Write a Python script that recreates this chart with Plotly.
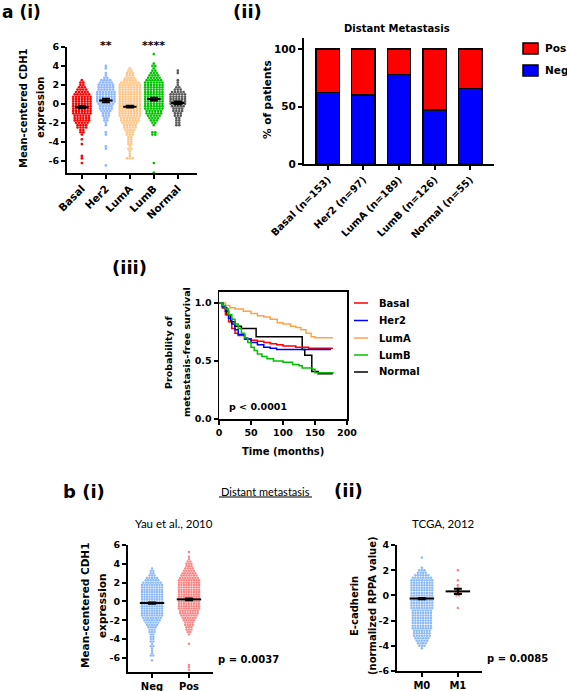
import plotly.graph_objects as go

W, H = 567, 691

# ---------------- data ----------------
subtypes = ["Basal", "Her2", "LumA", "LumB", "Normal"]
bar_labels = ["Basal (n=153)", "Her2 (n=97)", "LumA (n=189)", "LumB (n=126)", "Normal (n=55)"]
neg_pct = [62.1, 59.8, 77.8, 46.8, 65.5]
pos_pct = [37.9, 40.2, 22.2, 53.2, 34.5]

# a(i) swarm: number of points in each 0.25-wide row, from the top value downward
ai_step = 0.25
basal_top = 2.5
basal_counts = [1, 2, 2, 3, 4, 5, 6, 7, 7, 7, 7, 7, 7, 7, 7, 6, 6, 6, 5, 4, 4, 2, 2, 1, 0, 1, 0, 1, 0, 0, 0, 0, 1, 1, 0, 1]
her2_top = 4.0
her2_counts = [1, 1, 0, 1, 1, 2, 4, 5, 6, 6, 6, 7, 7, 7, 7, 7, 6, 5, 5, 4, 3, 3, 2, 2, 1, 1, 0, 0, 1, 1,
               0, 0, 0, 0, 1, 1, 0, 0, 0, 0, 0, 0, 1]
luma_top = 3.75
luma_counts = [1, 2, 3, 3, 4, 5, 7, 8, 8, 8, 8, 8, 8, 8, 8, 8, 8, 8, 8, 8, 8, 7, 7, 6, 5, 5, 4, 3, 3, 2,
               2, 2, 2, 1, 2, 1, 1, 1, 3]
lumb_top = 5.25
lumb_counts = [1, 0, 0, 0, 1, 2, 1, 2, 3, 4, 5, 6, 7, 7, 7, 7, 7, 7, 7, 7, 7, 7, 7, 7, 6, 6, 5, 4, 3, 2,
               1, 0, 0, 2, 2, 0, 0, 0, 0, 0, 0, 0, 0, 0, 0, 0, 1, 0, 0, 0, 1]
normal_top = 3.5
normal_counts = [1, 1, 0, 0, 1, 1, 1, 2, 3, 5, 6, 6, 6, 6, 6, 5, 4, 4, 3, 3, 2, 2, 2, 2]
ai_means = [-0.35, 0.35, -0.3, 0.5, 0.1]
ai_sem = [0.12, 0.18, 0.1, 0.15, 0.15]
ai_colors = ["#ff0000", "#8fb8ff", "#ffc688", "#00c400", "#5a5a5a"]

# a(iii) Kaplan-Meier steps (months, probability)
km_basal_t = [0, 5, 10, 15, 20, 25, 30, 40, 50, 60, 70, 80, 90, 100, 120, 140, 160, 178]
km_basal_s = [1.0, 0.96, 0.90, 0.84, 0.78, 0.74, 0.72, 0.69, 0.68, 0.67, 0.66, 0.65, 0.64, 0.63, 0.62, 0.61, 0.61, 0.61]
km_her2_t = [0, 5, 10, 15, 20, 25, 30, 40, 50, 60, 70, 80, 90, 100, 120, 140, 160, 175]
km_her2_s = [1.0, 0.97, 0.93, 0.87, 0.82, 0.77, 0.73, 0.69, 0.66, 0.64, 0.62, 0.61, 0.60, 0.60, 0.60, 0.60, 0.60, 0.60]
km_luma_t = [0, 10, 17, 25, 38, 50, 60, 70, 80, 91, 100, 112, 120, 128, 136, 144, 150, 178]
km_luma_s = [1.0, 0.98, 0.96, 0.95, 0.93, 0.91, 0.89, 0.88, 0.86, 0.83, 0.82, 0.80, 0.79, 0.77, 0.74, 0.71, 0.70, 0.70]
km_lumb_t = [0, 5, 10, 15, 20, 25, 30, 35, 40, 45, 50, 55, 60, 67, 75, 85, 100, 115, 125, 130, 146, 150, 178]
km_lumb_s = [1.0, 0.98, 0.95, 0.90, 0.86, 0.82, 0.78, 0.74, 0.70, 0.66, 0.62, 0.59, 0.56, 0.54, 0.52, 0.50, 0.49, 0.47, 0.46, 0.44, 0.43, 0.40, 0.39]
km_normal_t = [0, 6, 12, 18, 25, 35, 58, 130, 134, 145, 155, 178]
km_normal_s = [1.0, 0.96, 0.90, 0.84, 0.80, 0.78, 0.71, 0.60, 0.55, 0.41, 0.39, 0.39]
km_colors = ["#ff0000", "#0000ff", "#ffa347", "#00c000", "#000000"]

# b(i) Yau et al. swarm (0.25 rows)
b1_groups = ["Neg", "Pos"]
b1_step = 0.25
b1_neg_top = 3.5
b1_neg_counts = [1, 2, 2, 3, 5, 6, 8, 9, 9, 9, 9, 9, 9, 9, 9, 9, 9, 9, 9, 9,
                 9, 8, 7, 6, 5, 4, 3, 3, 2, 2, 2, 2, 1, 2, 1, 1, 1, 2, 0, 1]
b1_pos_top = 5.25
b1_pos_counts = [1, 0, 1, 1, 2, 3, 3, 4, 5, 6, 7, 8, 9, 9, 9, 9, 9, 9, 9, 9,
                 9, 9, 9, 9, 9, 8, 8, 7, 6, 5, 4, 4, 3, 3, 2, 1, 0, 0, 0, 1,
                 0, 0, 0, 0, 0, 0, 0, 0, 1, 1, 1]
b1_means = [-0.17, 0.22]
b1_sem = [0.07, 0.09]
b1_colors = ["#8cb9f7", "#ff8282"]

# b(ii) TCGA swarm (0.2 rows)
b2_groups = ["M0", "M1"]
b2_step = 0.2
b2_m0_top = 3.0
b2_m0_counts = [1, 0, 0, 0, 1, 3, 4, 6, 8, 9, 9, 9, 9, 9, 9, 9, 9, 9, 9, 9,
                9, 8, 8, 8, 8, 8, 8, 8, 8, 7, 7, 7, 6, 5, 4, 3, 1]
b2_m1_top = 2.0
b2_m1_counts = [1, 0, 0, 0, 1, 0, 1, 1, 2, 3, 2, 0, 0, 0, 0, 1]
b2_means = [-0.25, 0.32]
b2_sem = [0.05, 0.2]
b2_colors = ["#8cb9f7", "#ff8282"]

# ---------------- helpers ----------------
PF = "DejaVu Sans"
CF = "Lato"


def fx(p):
    return p / W


def fy(p):
    return 1 - p / H


def swarm(center, top, step, counts, dx):
    xs, ys = [], []
    for i, n in enumerate(counts):
        yv = top - i * step
        for j in range(n):
            xs.append(center + (j - (n - 1) / 2) * dx)
            ys.append(yv)
    return xs, ys


def axis(dom, rng, anchor, size=9, **kw):
    d = dict(domain=dom, range=rng, anchor=anchor, showline=True, linecolor="black", linewidth=2,
             ticks="outside", ticklen=4, tickwidth=2, tickcolor="black", showgrid=False,
             zeroline=False, automargin=False, fixedrange=True,
             tickfont=dict(family=PF, size=size, color="black", weight="bold"))
    d.update(kw)
    return d


fig = go.Figure()


def add_swarm_panel(xa, ya, tops, step, counts_list, colors, dx, msize, means, sems, half, cap):
    for k, (top, counts) in enumerate(zip(tops, counts_list)):
        xs, ys = swarm(k, top, step, counts, dx)
        fig.add_trace(go.Scatter(x=xs, y=ys, mode="markers", xaxis=xa, yaxis=ya,
                                 marker=dict(size=msize, color=colors[k], line=dict(width=0)),
                                 cliponaxis=False, hoverinfo="skip"))
    lx, ly = [], []
    for k, m in enumerate(means):
        lx += [k - half, k + half, None]
        ly += [m, m, None]
    fig.add_trace(go.Scatter(x=lx, y=ly, mode="lines", xaxis=xa, yaxis=ya,
                             line=dict(color="black", width=2), hoverinfo="skip"))
    fig.add_trace(go.Scatter(x=list(range(len(means))), y=means, mode="markers", xaxis=xa, yaxis=ya,
                             marker=dict(size=1, color="rgba(0,0,0,0)"),
                             error_y=dict(type="data", array=sems, color="black", thickness=2, width=cap),
                             hoverinfo="skip"))


# a(i)
add_swarm_panel("x", "y", [basal_top, her2_top, luma_top, lumb_top, normal_top], ai_step,
                [basal_counts, her2_counts, luma_counts, lumb_counts, normal_counts],
                ai_colors, 0.12, 2.7, ai_means, ai_sem, 0.28, 4)

# a(ii) stacked bars
cat_idx = list(range(len(bar_labels)))
fig.add_trace(go.Bar(x=cat_idx, y=neg_pct, xaxis="x2", yaxis="y2", width=0.66,
                     marker=dict(color="#0000ff", line=dict(color="black", width=1.5)), hoverinfo="skip"))
fig.add_trace(go.Bar(x=cat_idx, y=pos_pct, xaxis="x2", yaxis="y2", width=0.66,
                     marker=dict(color="#ff0000", line=dict(color="black", width=1.5)), hoverinfo="skip"))

# a(iii) KM
for t, s, c in [(km_luma_t, km_luma_s, km_colors[2]), (km_normal_t, km_normal_s, km_colors[4]),
                (km_basal_t, km_basal_s, km_colors[0]), (km_her2_t, km_her2_s, km_colors[1]),
                (km_lumb_t, km_lumb_s, km_colors[3])]:
    fig.add_trace(go.Scatter(x=t, y=s, mode="lines", xaxis="x3", yaxis="y3", line_shape="hv",
                             line=dict(color=c, width=1.5), hoverinfo="skip"))

# b(i)
add_swarm_panel("x4", "y4", [b1_neg_top, b1_pos_top], b1_step, [b1_neg_counts, b1_pos_counts],
                b1_colors, 0.068, 2.4, b1_means, b1_sem, 0.33, 4)
# b(ii)
add_swarm_panel("x5", "y5", [b2_m0_top, b2_m1_top], b2_step, [b2_m0_counts, b2_m1_counts],
                b2_colors, 0.072, 2.5, b2_means, b2_sem, 0.34, 4)

layout = dict(
    width=W, height=H, margin=dict(l=0, r=0, t=0, b=0, autoexpand=False),
    paper_bgcolor="white", plot_bgcolor="rgba(0,0,0,0)", showlegend=False, barmode="stack",
    template=None,
    xaxis=axis([fx(67), fx(197)], [-0.62, 4.8], "y", tickvals=list(range(5)), ticktext=subtypes,
               tickangle=-45, size=10.5),
    yaxis=axis([fy(172.5), fy(47)], [-7.25, 6], "x", tickvals=[6, 4, 2, 0, -2, -4, -6],
               ticktext=["6", "4", "2", "0", "-2", "-4", "-6"], size=9.5),
    xaxis2=axis([fx(304), fx(494)], [-0.67, 4.67], "y2", tickvals=cat_idx, ticktext=bar_labels,
                tickangle=-45, size=10),
    yaxis2=axis([fy(164), fy(37.5)], [0, 110], "x2", tickvals=[0, 50, 100], size=10.5),
    xaxis3=axis([fx(219), fx(347)], [0, 200], "y3", tickvals=[0, 50, 100, 150, 200], mirror=True,
                linewidth=1.5, size=9.5),
    yaxis3=axis([fy(419), fy(291.5)], [0, 1.1], "x3", tickvals=[0, 0.5, 1.0],
                ticktext=["0.0", "0.5", "1.0"], mirror=True, linewidth=1.5, size=9.5),
    xaxis4=axis([fx(128), fx(213)], [-0.65, 1.65], "y4", tickvals=[0, 1], ticktext=b1_groups, size=10),
    yaxis4=axis([fy(672), fy(545)], [-7.5, 6], "x4", tickvals=[6, 4, 2, 0, -2, -4, -6],
                ticktext=["6", "4", "2", "0", "-2", "-4", "-6"], size=9.5),
    xaxis5=axis([fx(397), fx(482)], [-0.69, 1.67], "y5", tickvals=[0, 1], ticktext=b2_groups, size=10),
    yaxis5=axis([fy(671), fy(545)], [-6, 4], "x5", tickvals=[4, 2, 0, -2, -4, -6],
                ticktext=["4", "2", "0", "-2", "-4", "-6"], size=9.5),
)
fig.update_layout(**layout)

ann = []


def txt(x, y, s, size=10, family=PF, bold=True, angle=0, xanchor="center", yanchor="middle", xref="paper"):
    ann.append(dict(x=x if xref != "paper" else fx(x), y=fy(y), xref=xref, yref="paper", text=s,
                    showarrow=False, textangle=angle, xanchor=xanchor, yanchor=yanchor,
                    font=dict(family=family, size=size, color="black", weight="bold" if bold else "normal")))


# panel labels
txt(0, 12, "a (i)", size=17, xanchor="left")
txt(231, 12, "(ii)", size=18, xanchor="left")
txt(149, 267, "(iii)", size=18, xanchor="right")
txt(61, 492, "b (i)", size=18, xanchor="left")
txt(332, 490, "(ii)", size=18, xanchor="left")

# a(i)
txt(23, 108, "Mean-centered CDH1", size=10, angle=-90)
txt(40, 108, "expression", size=10, angle=-90)
txt(1, 45, "**", size=11, xref="x")
txt(3, 45, "****", size=11, xref="x")

# a(ii)
txt(397, 28, "Distant Metastasis", size=10)
txt(267, 100, "% of patients", size=10.5, angle=-90)
txt(543, 48, "Pos", size=10.5, xanchor="left")
txt(543, 70, "Neg", size=10.5, xanchor="left")

# a(iii)
txt(169, 352, "Probability of", size=9.5, angle=-90)
txt(187, 352, "metastasis-free survival", size=9.5, angle=-90)
txt(283, 452, "Time (months)", size=10)
txt(227, 406, "p < 0.0001", size=9.5, xanchor="left")
km_names = ["Basal", "Her2", "LumA", "LumB", "Normal"]
km_leg_y = [303, 320.5, 338, 355, 372]
for name, yy in zip(km_names, km_leg_y):
    txt(377, yy, name, size=10, xanchor="left")

# b
txt(265, 491, "Distant metastasis", size=11, family=CF, bold=False)
txt(174, 523, "Yau et al., 2010", size=11.5, family=CF, bold=False)
txt(443, 523, "TCGA, 2012", size=11.5, family=CF, bold=False)
txt(85, 606, "Mean-centered CDH1", size=10.5, angle=-90)
txt(102, 606, "expression", size=10.5, angle=-90)
txt(354, 606, "E-cadherin", size=10, angle=-90)
txt(372, 606, "(normalized RPPA value)", size=10, angle=-90)
txt(216, 659, "p = 0.0037", size=10, xanchor="left")
txt(485, 658, "p = 0.0085", size=10, xanchor="left")

fig.update_layout(annotations=ann)

shapes = []
# a(ii) legend swatches
for y0, col in [(43, "#ff0000"), (65, "#0000ff")]:
    shapes.append(dict(type="rect", xref="paper", yref="paper", x0=fx(523), x1=fx(538), y0=fy(y0 + 11), y1=fy(y0),
                       fillcolor=col, line=dict(color="black", width=1.5)))
# a(iii) legend lines
for yy, col in zip(km_leg_y, km_colors):
    shapes.append(dict(type="line", xref="paper", yref="paper", x0=fx(354), x1=fx(368), y0=fy(yy), y1=fy(yy),
                       line=dict(color=col, width=1.5)))
# underline
shapes.append(dict(type="line", xref="paper", yref="paper", x0=fx(219), x1=fx(312), y0=fy(497), y1=fy(497),
                   line=dict(color="black", width=1)))
fig.update_layout(shapes=shapes)

fig.write_html("out.html", config={"displayModeBar": False, "staticPlot": True},
               post_script="document.body.style.margin='0';document.body.style.overflow='hidden';")
